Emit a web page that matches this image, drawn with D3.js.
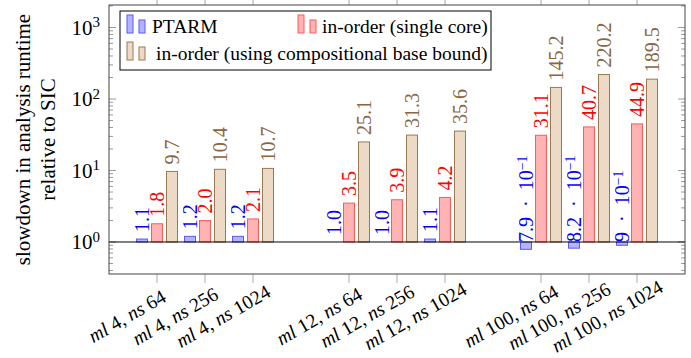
<!DOCTYPE html>
<meta charset="utf-8">
<style>
  body { margin:0; background:#fff; }
  svg text { font-family: "Liberation Serif", "DejaVu Serif", "Noto Serif", serif; }
</style>
<svg width="691" height="358" font-family="Liberation Serif, DejaVu Serif, serif"></svg>
<script src="https://cdn.jsdelivr.net/npm/d3@7"></script>
<script>

var categories = ["ml 4, ns 64", "ml 4, ns 256", "ml 4, ns 1024",
                  "ml 12, ns 64", "ml 12, ns 256", "ml 12, ns 1024",
                  "ml 100, ns 64", "ml 100, ns 256", "ml 100, ns 1024"];
var ptarm = [1.1, 1.2, 1.2, 1.0, 1.0, 1.1, 0.79, 0.82, 0.9];
var inorderSingle = [1.8, 2.0, 2.1, 3.5, 3.9, 4.2, 31.1, 40.7, 44.9];
var inorderComp = [9.7, 10.4, 10.7, 25.1, 31.3, 35.6, 145.2, 220.2, 189.5];
var seriesNames = ["PTARM", "in-order (single core)", "in-order (using compositional base bound)"];
var yTickExp = [0, 1, 2, 3];

var svg = d3.select("svg"),
    margin = {top: 5, right: 6, bottom: 84, left: 109},
    width = +svg.attr("width") - margin.left - margin.right,
    height = +svg.attr("height") - margin.top - margin.bottom,
    g = svg.append("g").attr("transform", "translate(" + margin.left + "," + margin.top + ")");

var x = d3.scaleLinear().domain([-1, 11]).range([0, width]);
var y = d3.scaleLog().domain([Math.pow(10, -0.4476), Math.pow(10, 3.315)]).range([height, 0]);

var series = [
  {name: seriesNames[0], values: ptarm, fill: "#b3b3ff", stroke: "#5a5aff", text: "#0000ff", off: -15},
  {name: seriesNames[1], values: inorderSingle, fill: "#ffb3b3", stroke: "#ff5a5a", text: "#ff0000", off: 0},
  {name: seriesNames[2], values: inorderComp, fill: "#ecd9c6", stroke: "#9c7852", text: "#8a6642", off: 15}
];

// groups of three with one empty slot between them
function pos(i) { return x(i + Math.floor(i / 3)); }

// x ticks (outside, top and bottom)
categories.forEach(function(c, i) {
  g.append("line").attr("x1", pos(i)).attr("x2", pos(i)).attr("y1", height).attr("y2", height + 9)
    .attr("stroke", "#aaa");
  g.append("line").attr("x1", pos(i)).attr("x2", pos(i)).attr("y1", 0).attr("y2", -9)
    .attr("stroke", "#aaa");
});

// y ticks, inside on both sides
y.ticks().forEach(function(v) {
  var major = Math.abs(Math.log10(v) - Math.round(Math.log10(v))) < 1e-9;
  var len = major ? 7 : 4;
  [[0, len], [width, width - len]].forEach(function(s) {
    g.append("line").attr("x1", s[0]).attr("x2", s[1]).attr("y1", y(v)).attr("y2", y(v))
      .attr("stroke", "#999");
  });
});

// bars
series.forEach(function(s) {
  g.append("g").selectAll("rect")
    .data(s.values)
    .enter().append("rect")
      .attr("x", function(d, i) { return pos(i) + s.off - 5.5; })
      .attr("width", 11)
      .attr("y", function(d) { return Math.min(y(d), y(1)); })
      .attr("height", function(d) { return Math.abs(y(d) - y(1)); })
      .attr("fill", s.fill)
      .attr("stroke", s.stroke);
});

// baseline at 10^0
g.append("line").attr("x1", 0).attr("x2", width).attr("y1", y(1)).attr("y2", y(1))
  .attr("stroke", "#000");

// frame
g.append("rect").attr("width", width).attr("height", height)
  .attr("fill", "none").attr("stroke", "#444");

// bar value labels
series.forEach(function(s) {
  s.values.forEach(function(v, i) {
    var yy = v < 1 ? y(1) : y(v) - 7;
    var t = g.append("text")
      .attr("transform", "translate(" + (pos(i) + s.off) + "," + yy + ")rotate(-90)")
      .attr("dy", "0.35em")
      .attr("fill", s.text)
      .style("font-size", "20px");
    if (v < 1) {
      t.append("tspan").text(String(+(v * 10).toFixed(1)) + "\u2002\u00b7\u200210");
      t.append("tspan").attr("dy", "-0.45em").style("font-size", "14px").text("\u22121");
    } else {
      t.text(v.toFixed(1));
    }
  });
});

// y tick labels
yTickExp.forEach(function(e) {
  var t = g.append("text")
    .attr("x", -9)
    .attr("y", y(Math.pow(10, e)))
    .attr("dy", "0.35em")
    .attr("text-anchor", "end")
    .attr("fill", "#000")
    .style("font-size", "21px");
  t.append("tspan").text("10");
  t.append("tspan").attr("dy", "-0.5em").style("font-size", "15px").text(e);
});

// x tick labels, centred a little left of their tick
categories.forEach(function(c, i) {
  var parts = c.split(/(ml|ns)/).filter(function(p) { return p.length; });
  var t = g.append("text")
    .attr("transform", "translate(" + (pos(i) - 30) + "," + (height + 42) + ")rotate(-30)")
    .attr("dy", "0.35em")
    .attr("text-anchor", "middle")
    .style("font-size", "19.5px");
  parts.forEach(function(p) {
    t.append("tspan")
      .style("font-style", (p === "ml" || p === "ns") ? "italic" : "normal")
      .text(p);
  });
});

// y axis label
["slowdown in analysis runtime", "relative to SIC"].forEach(function(l, k) {
  svg.append("text")
    .attr("transform", "translate(" + (23 + k * 25) + "," + (margin.top + height / 2) + ")rotate(-90)")
    .attr("dy", "0.35em")
    .attr("text-anchor", "middle")
    .style("font-size", "21px")
    .text(l);
});

// legend
var legend = svg.append("g");
legend.append("rect").attr("x", 120).attr("y", 11).attr("width", 371).attr("height", 59)
  .attr("fill", "#fff").attr("stroke", "#000");
var legendPos = [[127, 33, 152], [298, 33, 322], [127, 60, 156]];
series.forEach(function(s, k) {
  var p = legendPos[k];
  legend.append("rect").attr("x", p[0]).attr("y", p[1] - 18).attr("width", 6).attr("height", 18)
    .attr("fill", s.fill).attr("stroke", s.stroke);
  legend.append("rect").attr("x", p[0] + 12).attr("y", p[1] - 13).attr("width", 6).attr("height", 13)
    .attr("fill", s.fill).attr("stroke", s.stroke);
  legend.append("text").attr("x", p[2]).attr("y", p[1])
    .style("font-size", "19.5px")
    .text(s.name);
});

</script>
